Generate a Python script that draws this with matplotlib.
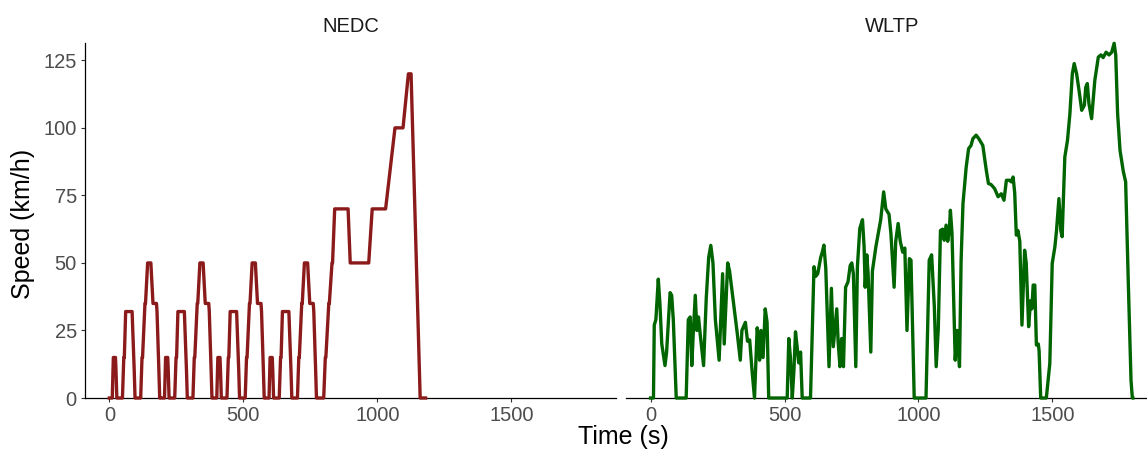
import matplotlib
matplotlib.use("Agg")
import matplotlib.pyplot as plt

plt.rcParams['font.family'] = ['Liberation Sans', 'DejaVu Sans']

#NEDC: one urban ECE-15 cycle (repeated 4 times) followed by the EUDC
ece_time = [0, 11, 15, 23, 25, 28, 49, 54, 56, 61, 85, 93, 96, 117, 122, 124,
            133, 135, 143, 155, 163, 176, 178, 185, 188, 195]
ece_speed = [0, 0, 15, 15, 10, 0, 0, 15, 15, 32, 32, 10, 0, 0, 15, 15,
             35, 35, 50, 50, 35, 35, 32, 10, 0, 0]
ece_starts = [0, 195, 390, 585]
eudc_time = [780, 800, 806, 808, 819, 821, 831, 833, 841, 891, 899, 968, 981,
             1031, 1066, 1096, 1116, 1126, 1160, 1180]
eudc_speed = [0, 0, 15, 15, 35, 35, 50, 50, 70, 70, 50, 50, 70,
              70, 100, 100, 120, 120, 0, 0]

#WLTP class 3
wltp_time = [0, 11, 14, 20, 29, 35, 42, 54, 60, 73, 79, 85, 96, 133, 141, 148,
             154, 160, 167, 173, 179, 185, 198, 208, 217, 225, 233, 242, 256,
             269, 275, 288, 295, 310, 323, 335, 341, 354, 362, 370, 379, 388,
             398, 404, 407, 412, 420, 428, 435, 441, 510, 516, 522, 529, 535,
             541, 547, 553, 560, 566, 597, 610, 616, 624, 635, 641, 647, 654,
             666, 675, 682, 695, 700, 707, 713, 720, 728, 737, 745, 751, 757,
             766, 772, 781, 791, 797, 801, 807, 812, 822, 828, 841, 853, 859,
             870, 878, 890, 897, 909, 915, 924, 932, 941, 949, 957, 966, 972,
             984, 1028, 1040, 1049, 1059, 1066, 1074, 1082, 1090, 1096, 1103,
             1109, 1115, 1119, 1125, 1137, 1144, 1153, 1159, 1166, 1178, 1187,
             1196, 1203, 1215, 1225, 1240, 1253, 1261, 1271, 1284, 1297, 1309,
             1319, 1328, 1340, 1346, 1353, 1359, 1365, 1371, 1378, 1386, 1396,
             1402, 1411, 1418, 1423, 1428, 1434, 1440, 1447, 1450, 1456, 1477,
             1490, 1499, 1509, 1515, 1524, 1531, 1536, 1541, 1546, 1556, 1565,
             1574, 1581, 1590, 1599, 1609, 1619, 1624, 1630, 1636, 1646, 1658,
             1671, 1681, 1689, 1700, 1711, 1721, 1730, 1736, 1743, 1752, 1764,
             1773, 1783, 1793, 1798, 1800]
wltp_speed = [0, 0, 27, 29, 44, 35, 20, 12, 17, 39, 38, 29, 0, 0, 29, 30,
              12, 25, 38, 25, 30, 24, 12, 37, 52, 56.5, 50, 29, 14,
              46, 20, 50, 47, 35, 24.5, 14, 25, 28, 21, 21.5, 10, 0,
              26, 21, 14, 25, 15, 33, 28, 0, 0, 22, 15, 0, 10,
              24.5, 19, 13, 17, 0, 0, 48.6, 45, 46, 52, 54, 56.6, 48,
              11.6, 40.6, 19, 33, 21, 11.6, 22, 11.6, 41, 43, 49, 50, 46,
              11.6, 48.6, 62.8, 66, 56, 41, 53, 46, 17, 47, 56, 62.8, 66,
              76.3, 70, 68, 61, 41, 58, 64.6, 58, 54, 55.5, 25, 51.6, 51,
              0, 0, 51, 53, 34, 11.6, 26, 62, 62.5, 58.4, 64,
              58, 62, 69.5, 61, 14, 25, 11.6, 51, 72, 85.5, 92.3,
              93.5, 96, 97.3, 96, 93.5, 84.3, 79.4, 79, 77.5, 74.5, 75.6,
              73.2, 80.6, 80.6, 80, 81.8, 76, 60.3, 62, 58, 27, 54.7,
              50, 26.4, 36, 33, 41.8, 41.8, 19.6, 20, 17.5, 0, 0,
              12.8, 49.8, 56, 62, 73.8, 62, 59.7, 74, 89.2, 95.4, 105.3,
              120, 123.8, 120, 113.9, 106.5, 108.4, 115, 116.4, 109, 103.4, 117.6,
              126.2, 127, 126, 128, 127, 128, 131.3, 127, 105.3, 91.7, 84,
              80, 42.4, 6.6, 0, 0]

x_ticks = [0, 500, 1000, 1500]
y_ticks = [0, 25, 50, 75, 100, 125]

#Build the full NEDC trace
nedc_time = []
nedc_speed = []
for start in ece_starts:
    nedc_time += [t + start for t in ece_time]
    nedc_speed += ece_speed
nedc_time += eudc_time
nedc_speed += eudc_speed

W, H = 1147, 453
fig = plt.figure(figsize=(W / 100, H / 100), dpi=100)

#Panel positions in pixels (the right panel runs past the figure edge)
panel_w = 530.6
panel_h = 354.7
ax1 = fig.add_axes([85.2 / W, 55 / H, panel_w / W, panel_h / H])
ax2 = fig.add_axes([626.4 / W, 55 / H, panel_w / W, panel_h / H])

panels = [(ax1, nedc_time, nedc_speed, '#8B1A1A', 'NEDC'),
          (ax2, wltp_time, wltp_speed, '#006400', 'WLTP')]

for ax, xs, ys, color, name in panels:
    ax.plot(xs, ys, color=color, linewidth=2.4, solid_joinstyle='round',
            zorder=3, clip_on=False)
    ax.set_xlim(-90, 1890)
    ax.set_ylim(0, 131.3)
    ax.set_xticks(x_ticks)
    ax.set_yticks(y_ticks)
    for side in ['top', 'right']:
        ax.spines[side].set_visible(False)
    for side in ['left', 'bottom']:
        ax.spines[side].set_linewidth(0.9)
        ax.spines[side].set_color('black')
    ax.tick_params(length=3, width=0.8, pad=3, color='#333333',
                   labelcolor='#4D4D4D', labelsize=14.5)
    ax.text(0.5, 1.048, name, transform=ax.transAxes, ha='center', va='center',
            fontsize=14.5, color='#1A1A1A')

ax2.spines['left'].set_visible(False)
ax2.tick_params(axis='y', left=False, labelleft=False)

fig.text(623 / W, 1 - 437 / H, 'Time (s)', ha='center', va='center', fontsize=18)
fig.text(23 / W, 1 - 224 / H, 'Speed (km/h)', ha='center', va='center',
         rotation=90, fontsize=18)

plt.savefig('out.png', dpi=100)
